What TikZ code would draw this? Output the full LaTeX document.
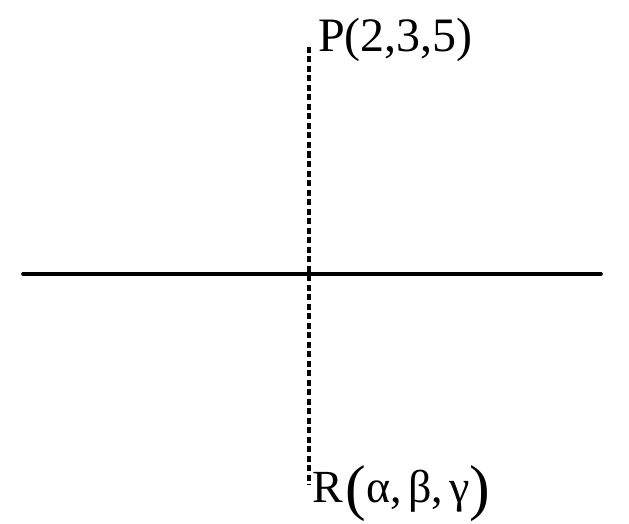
\documentclass[tikz,border=0pt]{standalone}
\usepackage{fontspec}
\setmainfont{Liberation Serif}
\usetikzlibrary{positioning}
\tikzset{
    axis/.style={
    line width=3.6pt,line cap=round
    },
    projection/.style={
    line width=3.2pt,dash pattern=on 6pt off 3.5pt
    },
    pointlabel/.style={
    inner sep=0pt,anchor=base west,font=\fontsize{48}{48}\selectfont
    },
}
\newcommand{\bigpar}[1]{{\fontsize{62}{62}\selectfont\raisebox{-6pt}{#1}}}

\begin{document}
\begin{tikzpicture}[x=1pt,y=-1pt]
   \useasboundingbox (0,0) rectangle (629,524);
   \coordinate (l) at (23,274);
   \coordinate (r) at (601,274);
   \coordinate (top) at (309,47);
   \coordinate (bot) at (309,485);
   \node[pointlabel] (P) at (318,52) {P(2,3,5)};
   \node[pointlabel,font=\fontsize{46}{46}\selectfont] (R) at (312,502) {R\kern3pt\bigpar{(}α,\kern6ptβ,\kern6ptγ\bigpar{)}};

  \draw[axis] (l) -- (r);
  \draw[projection] (top) -- (bot);
  \end{tikzpicture}
\end{document}
